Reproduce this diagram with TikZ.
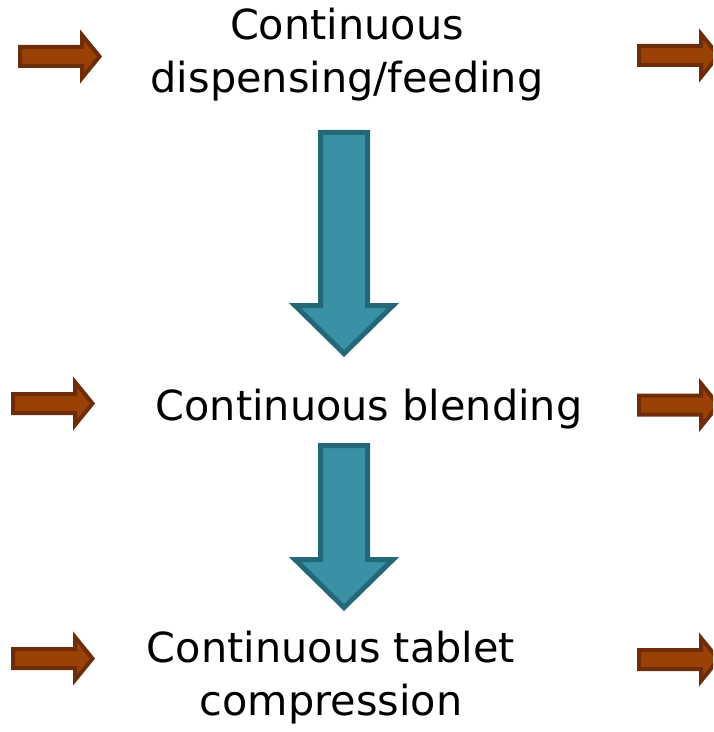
\documentclass[tikz,border=0pt]{standalone}
\usepackage{fontspec}
\setmainfont{DejaVu Sans}
\definecolor{feedfill}{HTML}{9A4205}
\definecolor{feedline}{HTML}{6E2D08}
\definecolor{flowfill}{HTML}{3A91A6}
\definecolor{flowline}{HTML}{246878}
\tikzset{
  feedarrow/.style={fill=feedfill,draw=feedline,line width=2pt,line join=miter},
  flowarrow/.style={fill=flowfill,draw=flowline,line width=2.5pt,line join=miter},
  feed/.pic={\draw[feedarrow] (0,-9.5) -- (62,-9.5) -- (62,-21.5) -- (79.5,0)
      -- (62,21.5) -- (62,9.5) -- (0,9.5) -- cycle;},
  flow/.pic={\draw[flowarrow] (-23.5,0) -- (-23.5,#1) -- (-49,#1) -- (0,#1+48)
      -- (49,#1) -- (23.5,#1) -- (23.5,0) -- cycle;}
}
\begin{document}
\begin{tikzpicture}[x=0.5pt,y=-0.5pt,
    every node/.style={inner sep=0pt,align=center,anchor=base,
      font=\fontsize{20.7}{26.5}\selectfont}]
  \useasboundingbox (0,0) rectangle (713,732);
  \clip (0,0) rectangle (713,732);

  % base anchor sits on the last line
  \node (dispense) at (347,93) {Continuous\\dispensing/feeding};
  \node (blend) at (369,420) {Continuous blending};
  \node (press) at (331,715) {Continuous tablet\\compression};

  % down arrows between the steps
  \pic at (344,132.5) {flow={173}};
  \pic at (344,445.5) {flow={114}};

  % side arrows, in and out
  \pic at (20,56.5) {feed};
  \pic at (13,403.5) {feed};
  \pic at (13,658.5) {feed};
  \pic at (639,55.5) {feed};
  \pic at (639,405) {feed};
  \pic at (639,659.5) {feed};
\end{tikzpicture}
\end{document}
